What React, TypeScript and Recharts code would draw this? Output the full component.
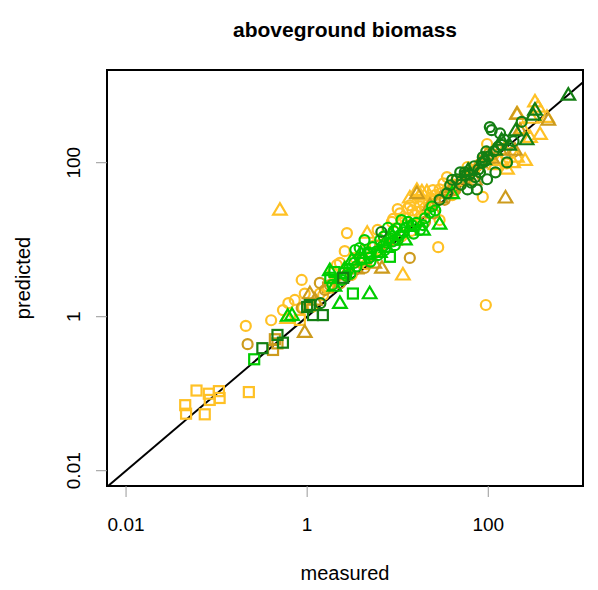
import { ScatterChart, Scatter, XAxis, YAxis, ReferenceLine, ReferenceArea, Customized } from 'recharts';

const X_DOMAIN = [0.00616, 1112];
const Y_DOMAIN = [0.00633, 1600];
const X_TICKS = [0.01, 1, 100];
const Y_TICKS = [0.01, 1, 100];
const TICK_LABELS: Record<number, string> = { 0.01: '0.01', 1: '1', 100: '100' };

const ORANGE = '#FFC125';
const GOLD = '#CD9B1D';
const GREEN = '#00CD00';
const DARK_GREEN = '#137F13';

// [measured, predicted]
const orangeSquares = [
  [0.045, 0.071], [0.046, 0.055], [0.06, 0.11], [0.074, 0.054], [0.082, 0.1], [0.084, 0.083],
  [0.106, 0.108], [0.108, 0.088], [0.227, 0.105], [0.83, 0.91],
];
const goldSquares = [[0.42, 0.37], [0.44, 0.51], [0.47, 0.45], [3.9, 5.4], [1.7, 2.4]];
const darkGreenSquares = [
  [0.32, 0.39], [0.47, 0.58], [0.54, 0.46], [1.07, 1.42], [1.16, 1.05], [1.49, 1.05], [1.0, 1.34], [2.5, 3.2],
];
const greenSquares = [[0.26, 0.28], [3.2, 2.0], [2.0, 3.8], [2.6, 3.7], [8.2, 6.0], [1.8, 3.2], [5.0, 6.5]];

const orangeCircles = [
  [0.21, 0.76], [0.54, 1.22], [0.73, 1.65], [0.87, 3.0], [0.9, 1.3], [0.94, 2.0], [1.13, 1.34], [1.38, 2.0],
  [1.7, 2.35], [1.92, 3.7], [2.13, 4.7], [2.3, 5.0], [2.6, 7.1], [2.75, 12.2], [3.1, 3.5], [3.8, 5.1],
  [4.3, 7.3], [3.4, 5.8], [5.2, 6.3], [5.6, 8.5], [6.0, 13.4], [7.2, 9.0], [8.6, 17], [8.9, 18.6],
  [9.3, 12.6], [10, 25], [10.6, 22], [12, 15.5], [12.9, 25.5], [13.6, 28], [15.5, 20.9], [17.6, 27],
  [20, 26], [24.5, 44], [29, 45], [29, 18], [28, 8], [32, 54], [35, 65], [40, 38], [49, 51], [59, 88],
  [87, 36], [94, 1.42], [97, 175], [125, 108], [158, 98], [1.5, 1.9], [2.0, 2.9], [4.5, 4.8], [6.5, 7.4],
  [11, 11], [14, 13], [18, 19], [22, 30], [45, 60], [70, 80], [110, 130], [60, 62],
  [12, 19], [14.5, 24], [16.5, 23], [19, 31], [23, 35], [26, 38], [30, 40], [36, 47], [42, 52], [52, 58],
  [65, 75], [80, 95], [26, 30], [38, 42], [0.62, 1.5], [0.4, 0.9],
];
const orangeTriangles = [
  [0.5, 24.3], [0.6, 0.96], [4.6, 12.2], [11.4, 3.5], [18.5, 42], [16.3, 44], [13.6, 35], [17.6, 38],
  [21, 42], [135, 108], [161, 83], [188, 101], [207, 119], [255, 108], [289, 215], [373, 235], [328, 620],
  [355, 530], [210, 430], [445, 390], [150, 150], [240, 280], [120, 95], [300, 380],
];
const goldCircles = [
  [0.22, 0.44], [1.38, 2.75], [1.57, 2.22], [1.78, 2.58], [1.0, 1.34], [0.87, 1.3], [13.6, 5.8], [188, 137],
  [6.4, 8.5], [2.3, 2.7], [4.3, 4.3], [33, 33], [43, 44], [8, 10], [20, 17], [25, 22],
];
const goldTriangles = [
  [1.07, 2.0], [0.94, 0.63], [6.7, 4.3], [16.3, 40], [155, 35], [97, 130], [81, 100], [197, 146],
  [460, 360], [207, 430], [1.22, 1.65], [9.3, 9.9], [22.7, 28], [71, 60], [135, 146], [224, 266],
  [2.6, 3.5], [30, 35], [50, 62], [3.5, 4.2], [5.5, 5.0], [40, 48], [60, 70], [110, 115],
];
const greenCircles = [
  [5.3, 8.0], [6.4, 9.9], [7.2, 7.35], [8.2, 10.5], [9.3, 8.5], [10.6, 11.5], [6.0, 6.3], [4.7, 6.9],
  [3.8, 7.8], [12, 14.2], [14.3, 15.5], [17.6, 13.4], [22.7, 22.5], [18.9, 15.5], [4.3, 9.9], [3.4, 7.35],
  [7.8, 14.3], [2.9, 4.2], [2.4, 3.0], [1.9, 2.6], [11, 18], [9, 13], [26, 24], [15, 12], [5, 5.2],
  [3.0, 3.6], [3.5, 4.5], [4.0, 5.5], [4.8, 5.8], [5.8, 7.0], [6.8, 8.2], [7.5, 9.2], [8.8, 9.5], [10, 10],
  [9.8, 14], [11.5, 12.5], [13, 17], [16, 16.5], [20, 19], [24, 27], [3.3, 5.0], [2.7, 3.4], [7, 11],
];
const greenTriangles = [
  [0.61, 1.02], [0.68, 1.05], [4.9, 2.0], [3.1, 5.45], [3.9, 6.7], [2.3, 1.5], [19, 13.4], [29, 16],
  [1.78, 4.0], [6.36, 6.9], [8.5, 12], [12, 10], [2.6, 4.2], [40, 40], [4.2, 5.8], [7.5, 8.0], [14, 15], [2.0, 2.5],
];
const darkGreenCircles = [
  [6.6, 12.6], [104, 290], [135, 240], [234, 340], [109, 265], [87, 118], [128, 160], [161, 101], [81, 75],
  [97, 61], [75, 45], [49, 75], [45, 61], [59, 45], [55, 69], [38, 51], [29, 33], [70, 90], [115, 140],
  [150, 200], [65, 55], [85, 100], [1.4, 1.5], [40, 60], [190, 190], [120, 75],
  [55, 75], [62, 70], [78, 82], [92, 105], [100, 120], [140, 170], [95, 140], [72, 65], [50, 52], [35, 40],
];
const darkGreenTriangles = [
  [766, 758], [328, 484], [314, 417], [140, 197], [265, 200], [119, 146], [200, 260], [90, 110], [170, 170], [60, 80],
];

const SERIES: Array<{ pts: number[][]; shape: string; color: string }> = [
  { pts: orangeSquares, shape: 'square', color: ORANGE },
  { pts: goldSquares, shape: 'square', color: GOLD },
  { pts: orangeCircles, shape: 'circle', color: ORANGE },
  { pts: goldCircles, shape: 'circle', color: GOLD },
  { pts: orangeTriangles, shape: 'triangle', color: ORANGE },
  { pts: goldTriangles, shape: 'triangle', color: GOLD },
  { pts: greenCircles, shape: 'circle', color: GREEN },
  { pts: greenTriangles, shape: 'triangle', color: GREEN },
  { pts: greenSquares, shape: 'square', color: GREEN },
  { pts: darkGreenCircles, shape: 'circle', color: DARK_GREEN },
  { pts: darkGreenTriangles, shape: 'triangle', color: DARK_GREEN },
  { pts: darkGreenSquares, shape: 'square', color: DARK_GREEN },
];

function Marker({ cx, cy, kind, color }: any) {
  if (cx == null || cy == null) return null;
  const common = { fill: 'none', stroke: color, strokeWidth: 2.2 };
  if (kind === 'circle') return <circle cx={cx} cy={cy} r={5} {...common} />;
  if (kind === 'square') return <rect x={cx - 5} y={cy - 5} width={10} height={10} {...common} />;
  return <polygon points={`${cx},${cy - 6.8} ${cx - 6.8},${cy + 4.7} ${cx + 6.8},${cy + 4.7}`} {...common} />;
}

const FONT = '"Liberation Sans", Arial, Helvetica, sans-serif';

function XTick({ x, y, payload }: any) {
  return (
    <text x={x} y={y + 32} textAnchor="middle" fontSize={19} fill="#000" fontFamily={FONT}>
      {TICK_LABELS[payload.value] ?? String(payload.value)}
    </text>
  );
}

function YTick({ x, y, payload }: any) {
  const bx = x - 14;
  return (
    <text x={bx} y={y} textAnchor="middle" fontSize={19} fill="#000" fontFamily={FONT} transform={`rotate(-90, ${bx}, ${y})`}>
      {TICK_LABELS[payload.value] ?? String(payload.value)}
    </text>
  );
}

function Labels() {
  return (
    <g fontFamily={FONT} fill="#000">
      <text x={345} y={37} textAnchor="middle" fontSize={21} fontWeight="bold">aboveground biomass</text>
      <text x={345} y={580} textAnchor="middle" fontSize={20}>measured</text>
      <text x={30} y={278} textAnchor="middle" fontSize={20} transform="rotate(-90, 30, 278)">predicted</text>
    </g>
  );
}

export default function App() {
  return (
    <div style={{ position: 'absolute', left: 0, top: 0, width: 598, height: 590, background: '#fff' }}>
      <ScatterChart width={598} height={590} margin={{ top: 70, right: 15, bottom: 0, left: 0 }} style={{ fontFamily: FONT }}>
        <XAxis
          type="number"
          dataKey="measured"
          scale="log"
          domain={X_DOMAIN}
          ticks={X_TICKS}
          allowDataOverflow
          axisLine={false}
          tickLine={{ stroke: '#999' }}
          tickSize={11}
          tick={XTick}
          height={104}
          interval={0}
        />
        <YAxis
          type="number"
          dataKey="predicted"
          scale="log"
          domain={Y_DOMAIN}
          ticks={Y_TICKS}
          allowDataOverflow
          axisLine={false}
          tickLine={{ stroke: '#999' }}
          tickSize={11}
          tick={YTick}
          width={107}
          interval={0}
        />
        {SERIES.map((s, i) => (
          <Scatter
            key={i}
            data={s.pts.map(([m, p]) => ({ measured: m, predicted: p }))}
            isAnimationActive={false}
            shape={(props: any) => <Marker {...props} kind={s.shape} color={s.color} />}
          />
        ))}
        <ReferenceLine
          segment={[{ x: Y_DOMAIN[0], y: Y_DOMAIN[0] }, { x: X_DOMAIN[1], y: X_DOMAIN[1] }]}
          stroke="#000"
          strokeWidth={2}
          ifOverflow="visible"
        />
        <ReferenceArea
          x1={X_DOMAIN[0]}
          x2={X_DOMAIN[1]}
          y1={Y_DOMAIN[0]}
          y2={Y_DOMAIN[1]}
          fill="none"
          fillOpacity={0}
          stroke="#000"
          strokeWidth={2}
          ifOverflow="visible"
        />
        <Customized component={Labels} />
      </ScatterChart>
    </div>
  );
}
